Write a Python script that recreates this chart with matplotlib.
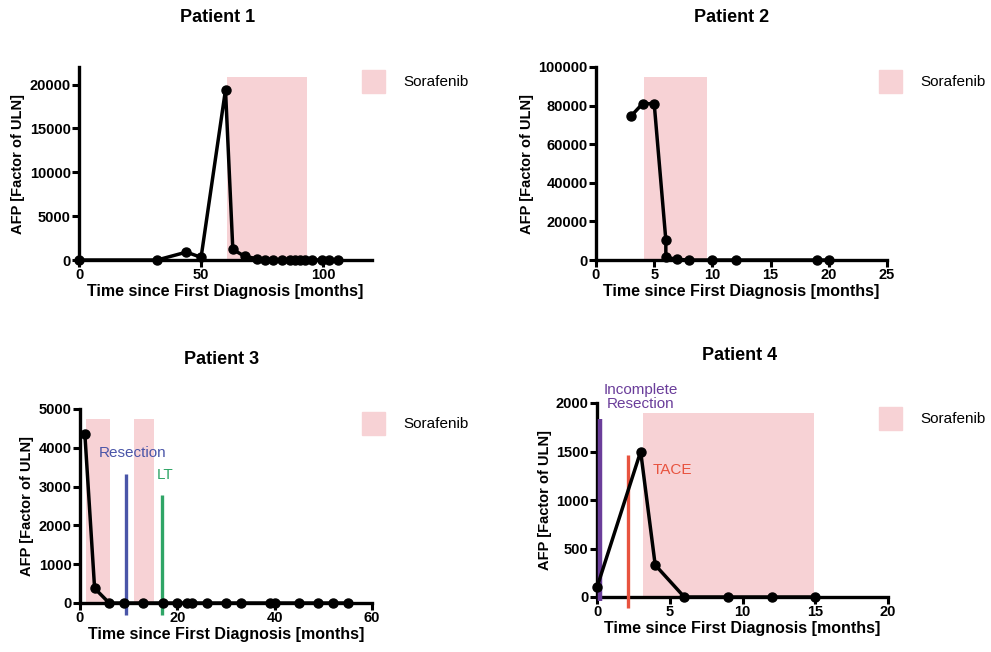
import matplotlib
matplotlib.use("Agg")
import matplotlib.pyplot as plt

plt.rcParams['font.family'] = ['Liberation Sans', 'DejaVu Sans']
plt.rcParams['font.weight'] = 'bold'

# ---- data ----
p1_x = [0, 32, 44, 50, 60, 63, 68, 73, 76, 79.5, 83, 86.5, 88.5, 90.5, 92.5, 95.5, 99.5, 102.5, 106]
p1_y = [0, 0, 900, 300, 19400, 1200, 400, 150, 50, 30, 20, 10, 10, 10, 10, 10, 10, 10, 10]
p1_sora = [(60.6, 93.4)]

p2_x = [3, 4, 5, 6, 6, 7, 8, 10, 12, 19, 20]
p2_y = [74500, 81000, 81000, 10300, 1400, 300, 0, 0, 0, 0, 0]
p2_sora = [(4.1, 9.5)]

p3_x = [1, 3, 6, 9, 13, 17, 20, 22, 23, 26, 30, 33, 39, 40, 45, 49, 52, 55]
p3_y = [4350, 380, 0, 0, 0, 0, 0, 0, 0, 0, 0, 0, 0, 0, 0, 0, 0, 0]
p3_sora = [(1.2, 6.2), (11.1, 15.3)]
p3_events = [("Resection", 9.4, -320, 3330, '#4a55a8', 10.8, 3870),
             ("LT", 16.9, -320, 2790, '#2fa566', 17.4, 3300)]

p4_x = [0, 3, 4, 6, 9, 12, 15]
p4_y = [100, 1500, 330, 0, 0, 0, 0]
p4_sora = [(3.15, 14.9)]
p4_events = [("Incomplete\nResection", 0.22, -40, 1840, '#6a3d9a', 3.0, 2060),
             ("TACE", 2.15, -110, 1460, '#e8533f', 5.2, 1310)]

titles = ["Patient 1", "Patient 2", "Patient 3", "Patient 4"]
xlims = [120, 25, 60, 20]
ylims = [22000, 100000, 5000, 2000]
xticks = [[0, 50, 100], [0, 5, 10, 15, 20, 25], [0, 20, 40, 60], [0, 5, 10, 15, 20]]
yticks = [[0, 5000, 10000, 15000, 20000], [0, 20000, 40000, 60000, 80000, 100000],
          [0, 1000, 2000, 3000, 4000, 5000], [0, 500, 1000, 1500, 2000]]
xlabel = "Time since First Diagnosis [months]"
ylabel = "AFP [Factor of ULN]"

PINK = '#f7d2d5'

W, H = 991, 652
fig = plt.figure(figsize=(W / 100, H / 100), dpi=100)

# axes rectangles in pixels: left, top(axis max), right, bottom(axis zero)
rects = [(79, 67, 372, 260), (596, 67, 887, 260), (80, 409, 372, 603), (597, 403, 888, 597)]
legend_pos = [(362, 70), (879, 70), (362, 412), (879, 407)]
title_pos = [(218, 17), (732, 17), (222, 360), (740, 355)]

data = [(p1_x, p1_y, p1_sora, []), (p2_x, p2_y, p2_sora, []),
        (p3_x, p3_y, p3_sora, p3_events), (p4_x, p4_y, p4_sora, p4_events)]

for i, (l, t, r, b) in enumerate(rects):
    ax = fig.add_axes([l / W, (H - b) / H, (r - l) / W, (b - t) / H])
    xs, ys, sora, events = data[i]
    ymax = ylims[i]
    for s0, s1 in sora:
        ax.bar(s0, 0.95 * ymax, width=s1 - s0, align='edge', color=PINK,
               edgecolor='none', zorder=1)
    for name, ex, y0, y1, col, tx, ty in events:
        lw = 3.2 if name.startswith("Incomplete") else 2.4
        ax.vlines(ex, y0, y1, color=col, lw=lw, zorder=3, clip_on=False)
        ax.text(tx, ty, name, color=col, fontsize=11, fontweight='normal',
                ha='center', va='center', linespacing=1.0, clip_on=False)
    ax.plot(xs, ys, color='black', lw=2.5, marker='o', markersize=6.5,
            zorder=4, clip_on=False)
    ax.set_xlim(0, xlims[i])
    ax.set_ylim(0, ymax)
    ax.set_xticks(xticks[i])
    ax.set_yticks(yticks[i])
    for side in ('top', 'right'):
        ax.spines[side].set_visible(False)
    for side in ('left', 'bottom'):
        ax.spines[side].set_linewidth(2.4)
    ax.tick_params(width=2.2, length=5, labelsize=10.5, pad=1)
    for lab in ax.get_xticklabels() + ax.get_yticklabels():
        lab.set_fontweight('bold')
    ax.set_xlabel(xlabel, fontsize=11.5, fontweight='bold', labelpad=1)
    ax.set_ylabel(ylabel, fontsize=10.5, fontweight='bold', labelpad=3)
    ax.patch.set_alpha(0)
    # title
    tx, ty = title_pos[i]
    fig.text(tx / W, 1 - ty / H, titles[i], ha='center', va='center',
             fontsize=13, fontweight='bold')
    # legend
    lx, ly = legend_pos[i]
    fig.patches.append(plt.Rectangle((lx / W, 1 - (ly + 23) / H), 23 / W, 23 / H,
                                     transform=fig.transFigure, color=PINK))
    fig.text((lx + 41) / W, 1 - (ly + 12) / H, "Sorafenib", ha='left', va='center',
             fontsize=11, fontweight='normal')

fig.savefig("out.png", dpi=100, facecolor='white')
